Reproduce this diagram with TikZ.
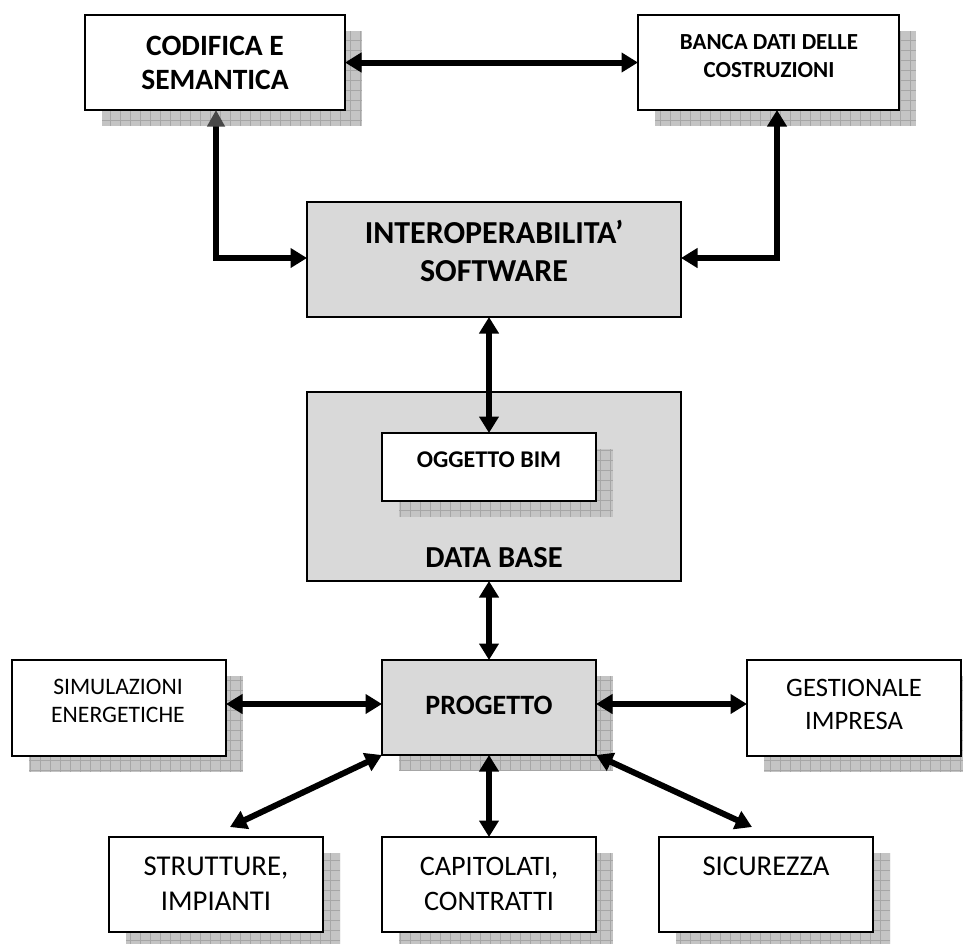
\documentclass[tikz,border=0pt]{standalone}
\usepackage{fontspec}
\setmainfont{Carlito}
\usetikzlibrary{arrows.meta}
\definecolor{boxgrey}{HTML}{D9D9D9}
\definecolor{shadowfill}{HTML}{C4C4C4}
\definecolor{shadowgrid}{HTML}{A6A6A6}
\newcommand\shadowrect[4]{%
  \begin{scope}
    \clip (#1,#2) rectangle (#3,#4);
    \fill[shadowfill] (#1,#2) rectangle (#3,#4);
    \draw[shadowgrid, line width=0.8pt, step=10pt] (#1,#2) grid (#3,#4);
  \end{scope}}
\newcommand\boxat[6]{% name, x1, y1, x2, y2, fill
  \node[boxshape, fill=#6, minimum width={#4-#2}, minimum height={#5-#3}]
    (#1) at ({(#2+#4)/2},{(#3+#5)/2}) {};}
\newcommand\shboxat[6]{%
  \shadowrect{#2+17}{#3+16}{#4+17}{#5+16}%
  \boxat{#1}{#2}{#3}{#4}{#5}{#6}}
\tikzset{
  boxshape/.style={draw, line width=2pt, rectangle, inner sep=0pt, outer sep=0pt},
  lbl/.style={anchor=base, inner sep=0pt, text=black},
  biarrow/.style={line width=6pt,
    {Triangle[length=16.5pt,width=19pt]}-{Triangle[length=16.5pt,width=19pt]}},
}
\begin{document}
\begin{tikzpicture}[x=1pt,y=-1pt]
\useasboundingbox (0,0) rectangle (963,943);
\fill[white] (0,0) rectangle (963,943);

% boxes
\shboxat{cod}{85}{15}{345}{110}{white}
\shboxat{banca}{638}{15}{899}{110}{white}
\boxat{inter}{307}{202}{681}{317}{boxgrey}
\boxat{db}{307}{392}{681}{581}{boxgrey}
\shboxat{ogg}{382}{433}{596}{501}{white}
\shboxat{prog}{382}{660}{596}{755}{boxgrey}
\shboxat{sim}{12}{660}{226}{756}{white}
\shboxat{gest}{747}{660}{961}{756}{white}
\shboxat{str}{109}{837}{323}{932}{white}
\shboxat{cap}{382}{837}{596}{932}{white}
\shboxat{sic}{659}{837}{873}{932}{white}

% texts
\begin{scope}[every node/.append style={lbl}]
\node[font=\fontsize{29.5}{34}\selectfont\bfseries] (codt1) at (215,55) {CODIFICA E};
\node[font=\fontsize{29.5}{34}\selectfont\bfseries] (codt2) at (215,89.3) {SEMANTICA};
\node[font=\fontsize{23}{28}\selectfont\bfseries] (bancat1) at (769,49.3) {BANCA DATI DELLE};
\node[font=\fontsize{23}{28}\selectfont\bfseries] (bancat2) at (769,77.7) {COSTRUZIONI};
\node[font=\fontsize{32}{38}\selectfont\bfseries] (intert1) at (494,243) {INTEROPERABILITA’};
\node[font=\fontsize{32}{38}\selectfont\bfseries] (intert2) at (494,281.7) {SOFTWARE};
\node[font=\fontsize{24}{28}\selectfont\bfseries] (oggt) at (489,467.3) {OGGETTO BIM};
\node[font=\fontsize{30.5}{36}\selectfont\bfseries] (dbt) at (494,567.3) {DATA BASE};
\node[font=\fontsize{28}{34}\selectfont\bfseries] (progt) at (489,714) {PROGETTO};
\node[font=\fontsize{23.6}{29}\selectfont] (simt1) at (118,694.3) {SIMULAZIONI};
\node[font=\fontsize{23.6}{29}\selectfont] (simt2) at (118,722.7) {ENERGETICHE};
\node[font=\fontsize{26.6}{33}\selectfont] (gestt1) at (854,696) {GESTIONALE};
\node[font=\fontsize{26.6}{33}\selectfont] (gestt2) at (854,729.3) {IMPRESA};
\node[font=\fontsize{28.7}{35}\selectfont] (strt1) at (216,875) {STRUTTURE,};
\node[font=\fontsize{28.7}{35}\selectfont] (strt2) at (216,910) {IMPIANTI};
\node[font=\fontsize{28.2}{35}\selectfont] (capt1) at (489,875) {CAPITOLATI,};
\node[font=\fontsize{28.2}{35}\selectfont] (capt2) at (489,910) {CONTRATTI};
\node[font=\fontsize{28.7}{35}\selectfont] (sict) at (766,875) {SICUREZZA};
\end{scope}

% connectors
\coordinate (strend) at (230,827);
\coordinate (sicend) at (752,827);
\draw[biarrow] (cod.east) -- (banca.west);
\draw[line width=6pt,
  {Triangle[length=16.5pt,width=17pt,color=black!72]}-{Triangle[length=16.5pt,width=19pt]}]
  ([xshift=1pt]cod.south) |- ([yshift=1.5pt]inter.west);
\draw[biarrow] ([xshift=8.5pt]banca.south) |- ([yshift=1.5pt]inter.east);
\draw[biarrow] (inter.south -| ogg.north) -- (ogg.north);
\draw[biarrow] (db.south -| prog.north) -- (prog.north);
\draw[biarrow] ([yshift=4pt]sim.east) -- ([yshift=3.5pt]prog.west);
\draw[biarrow] ([yshift=3.5pt]prog.east) -- ([yshift=4pt]gest.west);
\draw[biarrow] (prog.south) -- (cap.north);
\draw[biarrow] (prog.south west) -- (strend);
\draw[biarrow] (prog.south east) -- (sicend);
\end{tikzpicture}
\end{document}
